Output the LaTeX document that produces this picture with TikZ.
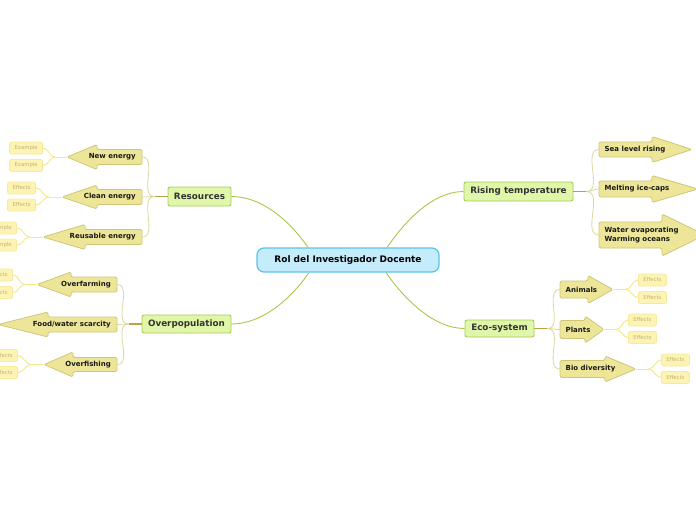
\documentclass[tikz,border=0pt]{standalone}
\usepackage{fontspec}
\setmainfont{DejaVu Sans}
\usetikzlibrary{backgrounds,calc}

\definecolor{cfill}{HTML}{C5ECFB}
\definecolor{cdraw}{HTML}{5CC3EB}
\definecolor{mfill}{HTML}{E0F6A8}
\definecolor{mdraw}{HTML}{A6CB58}
\definecolor{mtext}{HTML}{333333}
\definecolor{afill}{HTML}{EDE698}
\definecolor{adraw}{HTML}{CFC679}
\definecolor{lfill}{HTML}{FDF4B3}
\definecolor{ldraw}{HTML}{F6EAA0}
\definecolor{ltext}{HTML}{BFB27A}
\definecolor{cline}{HTML}{A6C84C}
\definecolor{stubc}{HTML}{B3A644}
\definecolor{brc}{HTML}{DCD79E}
\definecolor{leafc}{HTML}{F5E98C}

\tikzset{
  central/.style={draw=cdraw, fill=cfill, line width=1.2, rounded corners=7,
    font=\fontsize{9}{11}\selectfont\bfseries, text=black, inner sep=0},
  mainbox/.style={draw=mdraw, fill=mfill, line width=0.9, rounded corners=2,
    font=\fontsize{8.8}{10}\selectfont\bfseries, text=mtext, inner sep=0},
  subtext/.style={font=\fontsize{7}{8.5}\selectfont\bfseries, text=black!90, inner sep=0},
  subarrow/.style={draw=adraw, fill=afill, line width=0.8, rounded corners=1.5},
  leaf/.style={draw=ldraw, fill=lfill, line width=0.8, rounded corners=2, text=ltext,
    font=\fontsize{5.3}{6}\selectfont, inner xsep=5, inner ysep=0, minimum height=12},
  cconn/.style={draw=cline, line width=0.9},
  stub/.style={draw=stubc, line width=1.1},
  branchline/.style={draw=brc, line width=0.8},
  leafline/.style={draw=leafc, line width=1},
}

% #1 name, #2 shaft outer x, #3 head base x, #4 tip x, #5 centre y, #6 shaft half, #7 head half, #8 text
\newcommand\subL[8]{%
  \node[subtext, anchor=east, align=right] (#1) at (#2-6,#5) {#8};
  \coordinate (#1-e) at (#2,#5);
  \coordinate (#1-t) at (#4,#5);
  \begin{scope}[on background layer]
    \draw[subarrow] (#3,#5-#6) -- (#2,#5-#6) -- (#2,#5+#6) -- (#3,#5+#6)
      -- (#3,#5+#7) -- (#4,#5) -- (#3,#5-#7) -- cycle;
  \end{scope}}
\newcommand\subR[8]{%
  \node[subtext, anchor=west, align=left] (#1) at (#2+5.5,#5) {#8};
  \coordinate (#1-e) at (#2,#5);
  \coordinate (#1-t) at (#4,#5);
  \begin{scope}[on background layer]
    \draw[subarrow] (#3,#5-#6) -- (#2,#5-#6) -- (#2,#5+#6) -- (#3,#5+#6)
      -- (#3,#5+#7) -- (#4,#5) -- (#3,#5-#7) -- cycle;
  \end{scope}}

\begin{document}
\begin{tikzpicture}[x=1pt, y=-1pt]
\useasboundingbox (0,0) rectangle (696,520);

% central and main topics
\node[central, minimum width=182, minimum height=24] (c) at (348,260) {Rol del Investigador Docente};
\node[mainbox, minimum width=63, minimum height=19] (res) at (199.5,196.5) {Resources};
\node[mainbox, minimum width=89, minimum height=18] (op) at (186.5,324) {Overpopulation};
\node[mainbox, minimum width=109, minimum height=19] (rt) at (518.5,191.5) {Rising temperature};
\node[mainbox, minimum width=69, minimum height=17] (eco) at (499.5,328.5) {Eco-system};

% central connectors
\draw[cconn] ($(c.north)+(-40,0)$) .. controls +(-18,-26) and +(31,0) .. (res.east);
\draw[cconn] ($(c.north)+(39,0)$) .. controls +(18,-26) and +(-31,0) .. (rt.west);
\draw[cconn] ($(c.south)+(-39,0)$) .. controls +(-18,26) and +(31,0) .. (op.east);
\draw[cconn] ($(c.south)+(38,0)$) .. controls +(18,26) and +(-31,0) .. (eco.west);

% subtopics left
\subL{ne}{142}{97}{67}{157}{7.5}{12.5}{New energy}
\subL{ce}{142}{97}{62}{197}{7.5}{12}{Clean energy}
\subL{re}{142}{85}{43}{237}{7.5}{12.5}{Reusable energy}
\subL{of}{117}{71}{37}{284.5}{7.5}{12.5}{Overfarming}
\subL{fw}{117}{48}{-2}{324.5}{7.5}{12.5}{Food/water scarcity}
\subL{fi}{117}{73}{44}{364.5}{7}{12.5}{Overfishing}

% subtopics right
\subR{sl}{599}{652}{692}{149.5}{7.5}{13}{Sea level rising}
\subR{mi}{599}{652}{698}{189}{8}{13.5}{Melting ice-caps}
\subR{we}{599}{662}{705}{235}{13}{21}{Water evaporating\\Warming oceans}
\subR{an}{560}{588}{613}{289.5}{8.5}{14}{Animals}
\subR{pl}{560}{585}{604}{329.5}{9}{13.5}{Plants}
\subR{bd}{560}{605}{636}{369}{8.5}{13}{Bio diversity}

% main to sub connectors
\draw[stub] (res.west) -- ++(-13,0) coordinate (res-b);
\foreach \s in {ne,ce,re} \draw[branchline] (res-b) to[out=180,in=0] (\s-e);
\draw[stub] (op.west) -- ++(-13,0) coordinate (op-b);
\foreach \s in {of,fw,fi} \draw[branchline] (op-b) to[out=180,in=0] (\s-e);
\draw[stub] (rt.east) -- ++(13,0) coordinate (rt-b);
\foreach \s in {sl,mi,we} \draw[branchline] (rt-b) to[out=0,in=180] (\s-e);
\draw[stub] (eco.east) -- ++(13,0) coordinate (eco-b);
\foreach \s in {an,pl,bd} \draw[branchline] (eco-b) to[out=0,in=180] (\s-e);

% leaves left
\node[leaf, anchor=east] (ne1) at (43,148) {Example};
\node[leaf, anchor=east] (ne2) at (43,165.5) {Example};
\node[leaf, anchor=east] (ce1) at (36,188) {Effects};
\node[leaf, anchor=east] (ce2) at (36,205) {Effects};
\node[leaf, anchor=east] (re1) at (17,228) {Example};
\node[leaf, anchor=east] (re2) at (17,245) {Example};
\node[leaf, anchor=east] (of1) at (13,275) {Effects};
\node[leaf, anchor=east] (of2) at (13,292.5) {Effects};
\node[leaf, anchor=east] (fi1) at (18,355.5) {Effects};
\node[leaf, anchor=east] (fi2) at (18,372.5) {Effects};
% leaves right
\node[leaf, anchor=west] (an1) at (638,280) {Effects};
\node[leaf, anchor=west] (an2) at (638,297.5) {Effects};
\node[leaf, anchor=west] (pl1) at (628,320) {Effects};
\node[leaf, anchor=west] (pl2) at (628,337.5) {Effects};
\node[leaf, anchor=west] (bd1) at (661,360) {Effects};
\node[leaf, anchor=west] (bd2) at (661,377.5) {Effects};

% leaf connectors
\foreach \s in {ne,ce,re,of,fi}{
  \draw[leafline] (\s-t) -- ($(\s-t)!0.5!(\s1.east |- \s-t)$) coordinate (\s-b);
  \draw[leafline] (\s-b) to[out=180,in=0] (\s1.east);
  \draw[leafline] (\s-b) to[out=180,in=0] (\s2.east);
}
\foreach \s in {an,pl,bd}{
  \draw[leafline] (\s-t) -- ($(\s-t)!0.5!(\s1.west |- \s-t)$) coordinate (\s-b);
  \draw[leafline] (\s-b) to[out=0,in=180] (\s1.west);
  \draw[leafline] (\s-b) to[out=0,in=180] (\s2.west);
}
\end{tikzpicture}
\end{document}
